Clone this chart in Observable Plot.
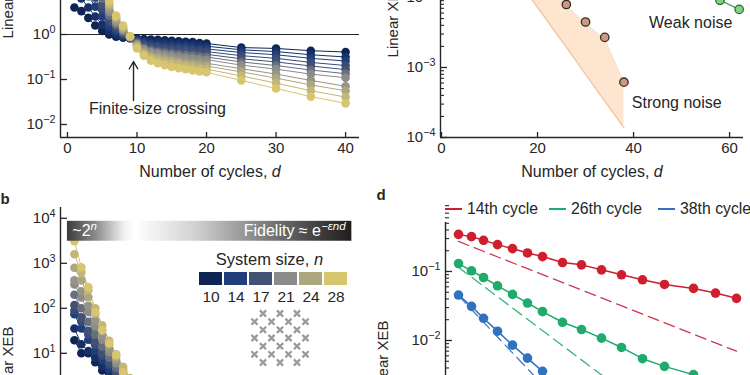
<!DOCTYPE html>
<html><head><meta charset="utf-8">
<script src="https://cdn.jsdelivr.net/npm/d3@7"></script>
<script src="https://cdn.jsdelivr.net/npm/@observablehq/plot@0.6"></script>
<style>
body{margin:0;background:#fff;}
#page{position:relative;width:750px;height:375px;overflow:hidden;background:#fff;font-family:"Liberation Sans",Arial,Helvetica,sans-serif;color:#262626;}
.wrap{position:absolute;}
.plabel{position:absolute;font-weight:bold;font-size:15px;line-height:15px;}
.lg{position:absolute;font-size:15.8px;line-height:15.8px;display:flex;align-items:center;white-space:nowrap;}
.sw{display:inline-block;width:17px;height:2px;margin-right:5px;}
</style></head><body><div id="page"></div>
<script>
// ---------------- DATA ----------------
const cyclesA = [1,2,3,4,5,6,7,8,9,10,11,12,13,14,15,16,17,18,19,20,25,30,35,40];
const cyclesB = [1,2,3,4,5,6,7,8,9,10];
const sizes = [10,12,14,16,17,19,21,22,24,26,28];
const legendSizes = [10,14,17,21,24,28];
const legendColors = ["#0e2554","#203d7c","#435274","#8b8b89","#ada780","#d8c66f"];

// panel a: log10(linear XEB) for each system size, at cyclesA
const aN10 = [0.60,0.52,0.37,0.20,0.08,0.00,-0.05,-0.07,-0.08,-0.09,-0.10,-0.11,-0.12,-0.13,-0.14,-0.15,-0.16,-0.17,-0.19,-0.20,-0.29,-0.31,-0.36,-0.39];
const aN12 = [0.95,0.80,0.60,0.40,0.22,0.08,0.00,-0.05,-0.08,-0.11,-0.14,-0.16,-0.17,-0.18,-0.19,-0.20,-0.21,-0.23,-0.25,-0.26,-0.34,-0.38,-0.45,-0.50];
const aN14 = [1.30,1.10,0.85,0.62,0.40,0.18,0.07,-0.02,-0.07,-0.13,-0.18,-0.21,-0.23,-0.24,-0.25,-0.26,-0.27,-0.29,-0.31,-0.32,-0.40,-0.45,-0.53,-0.59];
const aN16 = [1.65,1.40,1.10,0.82,0.56,0.28,0.13,0.01,-0.07,-0.15,-0.22,-0.26,-0.28,-0.30,-0.31,-0.32,-0.33,-0.35,-0.37,-0.38,-0.47,-0.53,-0.62,-0.69];
const aN17 = [1.85,1.58,1.25,0.95,0.66,0.34,0.17,0.03,-0.06,-0.17,-0.26,-0.31,-0.33,-0.35,-0.36,-0.38,-0.39,-0.41,-0.43,-0.44,-0.54,-0.61,-0.70,-0.78];
const aN19 = [2.15,1.82,1.45,1.12,0.80,0.42,0.22,0.06,-0.06,-0.19,-0.30,-0.35,-0.38,-0.40,-0.42,-0.44,-0.45,-0.47,-0.49,-0.50,-0.61,-0.69,-0.79,-0.87];
const aN21 = [2.45,2.05,1.65,1.28,0.93,0.50,0.27,0.09,-0.06,-0.21,-0.33,-0.39,-0.42,-0.45,-0.47,-0.49,-0.51,-0.53,-0.55,-0.56,-0.68,-0.77,-0.88,-0.96];
const aN22 = [2.60,2.18,1.75,1.37,1.00,0.55,0.30,0.11,-0.05,-0.23,-0.36,-0.43,-0.47,-0.50,-0.53,-0.56,-0.58,-0.60,-0.62,-0.64,-0.76,-0.88,-1.02,-1.15];
const aN24 = [2.85,2.40,1.92,1.50,1.10,0.62,0.35,0.14,-0.05,-0.25,-0.40,-0.48,-0.52,-0.55,-0.58,-0.61,-0.64,-0.66,-0.68,-0.70,-0.83,-0.97,-1.12,-1.25];
const aN26 = [3.10,2.62,2.10,1.65,1.22,0.68,0.39,0.17,-0.04,-0.28,-0.44,-0.53,-0.58,-0.61,-0.64,-0.67,-0.70,-0.72,-0.75,-0.77,-0.92,-1.08,-1.25,-1.39];
const aN28 = [3.35,2.85,2.30,1.80,1.32,0.74,0.42,0.20,-0.04,-0.31,-0.47,-0.58,-0.64,-0.68,-0.72,-0.75,-0.77,-0.80,-0.82,-0.84,-1.02,-1.20,-1.38,-1.53];

// panel b: log10(linear XEB) at cyclesB
const bN10 = [1.29,1.00,1.00,0.80,0.62,0.45,0.30,0.15,0.00,-0.10];
const bN12 = [1.55,1.20,1.05,0.90,0.72,0.55,0.38,0.20,0.05,-0.10];
const bN14 = [1.87,1.55,1.30,1.05,0.85,0.65,0.48,0.30,0.12,-0.05];
const bN16 = [1.95,1.70,1.42,1.18,0.95,0.75,0.55,0.38,0.20,0.00];
const bN17 = [2.07,1.80,1.50,1.25,1.02,0.80,0.60,0.42,0.22,0.05];
const bN19 = [2.30,2.00,1.70,1.42,1.15,0.90,0.68,0.48,0.28,0.10];
const bN21 = [2.53,2.24,1.92,1.60,1.30,1.02,0.78,0.55,0.33,0.12];
const bN22 = [2.62,2.38,2.05,1.72,1.40,1.10,0.84,0.60,0.37,0.15];
const bN24 = [2.90,2.62,2.25,1.88,1.52,1.20,0.90,0.65,0.40,0.18];
const bN26 = [3.20,2.80,2.40,2.00,1.62,1.28,0.98,0.70,0.45,0.20];
const bN28 = [3.49,2.91,2.47,1.91,1.51,1.22,0.96,0.58,0.35,0.15];

// panel c
const strongCycles = [26,30,34,38];
const strongLog = [-2.10,-2.35,-2.57,-3.21];
const weakCycles = [58,62];
const weakLog = [-2.04,-2.17];
const bandCycles = [18,24.5,26,30,34,38];
const bandLowLog = [-1.95,-2.57,-2.71,-3.10,-3.48,-3.86];
const bandHighLog = [-1.00,-2.00,-2.12,-2.37,-2.60,-3.22];

// panel d
const xD = [11.3,12.6,13.8,15.2,16.7,18.2,19.7,21.7,23.6,25.6,27.6,29.7,31.9,34.8,37.0,39.1];
const cyc14Log = [-0.462,-0.495,-0.548,-0.611,-0.668,-0.731,-0.784,-0.870,-0.904,-0.976,-1.048,-1.120,-1.188,-1.245,-1.313,-1.389];
const cyc26Log = [-0.885,-0.990,-1.087,-1.207,-1.332,-1.457,-1.582,-1.736,-1.841,-1.966,-2.101,-2.264,-2.375,-2.495];
const cyc38Log = [-1.341,-1.505,-1.678,-1.865,-2.067,-2.255,-2.447];
const fit14X = [11.3,39.1], fit14Log = [-0.565,-2.155];
const fit26X = [11.3,30.0], fit26Log = [-0.94,-2.98];
const fit38X = [11.3,24.0], fit38Log = [-1.35,-3.30];
const cycleLabels = ["14th cycle","26th cycle","38th cycle"];
const cycleColors = ["#cf1f2e","#1fab6b","#2f72c0"];
const fitColors = ["#c93a50","#38b57e","#3f7fc8"];

// qubit layout
const qubitRow = [0,0,0,1,1,1,1,2,2,2,3,3,3,3,4,4,4,5,5,5,5,6,6,6];
const qubitCol = [1,3,5,0,2,4,6,1,3,5,0,2,4,6,1,3,5,0,2,4,6,1,3,5];

// ---------------- HELPERS ----------------
const FONT = '"Liberation Sans", Arial, Helvetica, sans-serif';
const INK = "#262626";
const TICK = 15, TITLE = 16, NOTE = 16;
const page = document.getElementById("page");
const colorScale = {type: "linear", domain: legendSizes, range: legendColors};
const sup10 = v => { const e = Math.round(Math.log10(v)); return "10^" + (e < 0 ? "\u2212" + (-e) : e); };
const logTicks = (a, b) => d3.range(a, b + 1).map(e => 10 ** e);
const minorTicks = (a, b) => d3.range(a, b + 1).flatMap(e => d3.range(2, 10).map(m => m * 10 ** e));

const RICH = {
  "Number of cycles, d": [["Number of cycles, "], ["d", "i"]],
  "System size, n": [["System size, "], ["n", "i"]],
  "~2^n": [["~2"], ["n", "is"]],
  "Fidelity \u2248 e^\u2212\u03b5nd": [["Fidelity \u2248 e"], ["\u2212\u03b5nd", "is"]]
};
function enrich(svg) {
  d3.select(svg).selectAll("text").each(function () {
    if (this.querySelector("tspan")) return;
    const t = this.textContent;
    let segs = RICH[t];
    if (!segs && /^10\^/.test(t)) segs = [["10"], [t.slice(3), "s"]];
    if (!segs) return;
    const el = d3.select(this);
    el.text(null);
    for (const [s, f = ""] of segs) {
      const ts = el.append("tspan").text(s);
      if (f.includes("i")) ts.attr("font-style", "italic");
      if (f.includes("s")) ts.attr("dy", "-0.55em").style("font-size", "72%");
    }
  });
}
function place(node, left, top) {
  const w = document.createElement("div");
  w.className = "wrap";
  w.style.left = left + "px"; w.style.top = top + "px";
  w.appendChild(node);
  page.appendChild(w);
  enrich(node);
  return node;
}
const baseStyle = {fontFamily: FONT, background: "transparent", color: INK, overflow: "visible"};
const xTitle = () => Plot.text(["Number of cycles, d"], {frameAnchor: "bottom", lineAnchor: "middle", textAnchor: "middle", dy: 34, fontSize: TITLE, fill: INK});
const yTitle = dx => Plot.text(["Linear XEB"], {frameAnchor: "left", rotate: -90, textAnchor: "middle", lineAnchor: "middle", dx, fontSize: 15, fill: INK});

// ---------------- PANEL A ----------------
const seriesA = [aN10,aN12,aN14,aN16,aN17,aN19,aN21,aN22,aN24,aN26,aN28];
const tableA = sizes.flatMap((n, i) => seriesA[i].map((v, j) => ({n, d: cyclesA[j], xeb: 10 ** v})));
const yA = [10 ** -2.289, 10 ** 3.8];
const plotA = Plot.plot({
  width: 375, height: 324, marginLeft: 60, marginRight: 16, marginTop: 0, marginBottom: 50,
  style: baseStyle,
  x: {domain: [-1, 42]},
  y: {type: "log", domain: yA},
  color: colorScale,
  marks: [
    Plot.ruleY([1], {stroke: INK, strokeWidth: 1.2}),
    Plot.line(tableA, {x: "d", y: "xeb", z: "n", stroke: "n", strokeWidth: 1}),
    Plot.dot(tableA, {x: "d", y: "xeb", fill: "n", r: 4.3}),
    Plot.arrow([{d: 9.5, from: 10 ** -1.467, to: 10 ** -0.6}], {x1: "d", x2: "d", y1: "from", y2: "to", stroke: INK, strokeWidth: 1.4, headLength: 9}),
    Plot.text(["Finite-size crossing"], {x: 12.95, y: 10 ** -1.66, fontSize: NOTE, fill: INK}),
    Plot.axisX({ticks: [0,10,20,30,40], tickSize: -5, tickPadding: 10, fontSize: TICK, label: null, stroke: INK, strokeWidth: 1.3}),
    Plot.axisY({ticks: logTicks(-2, 3), tickFormat: sup10, tickSize: -7, tickPadding: 12, fontSize: TICK, label: null, strokeWidth: 1.3}),
    Plot.ruleX([-1], {stroke: INK, strokeWidth: 1.4}),
    Plot.ruleY([yA[0]], {stroke: INK, strokeWidth: 1.4}),
    xTitle(),
    yTitle(-52)
  ]
});
place(plotA, 0, -137);

// ---------------- PANEL B ----------------
const seriesB = [bN10,bN12,bN14,bN16,bN17,bN19,bN21,bN22,bN24,bN26,bN28];
const tableB = sizes.flatMap((n, i) => seriesB[i].map((v, j) => ({n, d: cyclesB[j], xeb: 10 ** v})));
const yB = [10 ** -2.738, 10 ** 4.24];
const fidelityBar = {start: 0, end: 40.9, low: 10 ** 3.49, high: 10 ** 3.933};
const plotB = Plot.plot({
  width: 375, height: 354, marginLeft: 60, marginRight: 16, marginTop: 0, marginBottom: 40,
  style: baseStyle,
  x: {domain: [-1, 42]},
  y: {type: "log", domain: yB},
  color: colorScale,
  marks: [
    Plot.line(tableB, {x: "d", y: "xeb", z: "n", stroke: "n", strokeWidth: 1}),
    Plot.dot(tableB, {x: "d", y: "xeb", fill: "n", r: 4.3}),
    Plot.rect([fidelityBar], {x1: "start", x2: "end", y1: "low", y2: "high", fill: "url(#fidelityGradient)"}),
    Plot.text(["~2^n"], {x: 0.7, y: 10 ** 3.71, textAnchor: "start", fill: "white", fontSize: NOTE}),
    Plot.text(["Fidelity \u2248 e^\u2212\u03b5nd"], {x: 40.0, y: 10 ** 3.71, textAnchor: "end", fill: "white", fontSize: NOTE}),
    Plot.axisX({ticks: [0,10,20,30,40], tickSize: -5, tickPadding: 10, fontSize: TICK, label: null}),
    Plot.axisY({ticks: logTicks(-2, 4), tickFormat: sup10, tickSize: -7, tickPadding: 12, fontSize: TICK, label: null, strokeWidth: 1.3}),
    Plot.ruleX([-1], {stroke: INK, strokeWidth: 1.4}),
    Plot.ruleY([yB[0]], {stroke: INK, strokeWidth: 1.4}),
    yTitle(-52)
  ]
});
const defs = d3.select(plotB).insert("defs", ":first-child");
const grad = defs.append("linearGradient").attr("id", "fidelityGradient").attr("x1", 0).attr("x2", 1).attr("y1", 0).attr("y2", 0);
[[0,"#3c3c3c"],[0.1,"#8a8a8a"],[0.2,"#f0f0f0"],[0.24,"#ffffff"],[0.45,"#d2d2d2"],[0.65,"#8e8e8e"],[0.85,"#4a4a4a"],[1,"#1e1e1e"]]
  .forEach(([o, c]) => grad.append("stop").attr("offset", o).attr("stop-color", c));
place(plotB, 0, 207);

// legend: system size
const plotLegend = Plot.plot({
  width: 176, height: 57, marginLeft: 13, marginRight: 13, marginTop: 24, marginBottom: 20,
  style: baseStyle,
  x: {type: "band", domain: legendSizes, paddingInner: 0.08, paddingOuter: 0.04},
  color: colorScale,
  marks: [
    Plot.cell(legendSizes, {x: d => d, fill: d => d}),
    Plot.axisX({tickSize: 0, tickPadding: 5, fontSize: 15.5, label: null}),
    Plot.text(["System size, n"], {frameAnchor: "top", lineAnchor: "middle", textAnchor: "middle", dy: -13, dx: -4, fontSize: 16.5, fill: INK})
  ]
});
place(plotLegend, 185, 248);

// qubit layout
const qubits = qubitRow.map((r, i) => ({r, c: qubitCol[i]}));
const plotQ = Plot.plot({
  width: 71, height: 69, marginLeft: 10, marginRight: 10, marginTop: 10, marginBottom: 10,
  style: baseStyle,
  x: {domain: [0, 6], axis: null},
  y: {domain: [0, 6], reverse: true, axis: null},
  marks: [Plot.dot(qubits, {x: "c", y: "r", symbol: "times", r: 2.9, stroke: "#9b9b9b", strokeWidth: 2.3})]
});
place(plotQ, 244, 303);

// ---------------- PANEL C ----------------
const band = bandCycles.map((d, i) => ({d, low: 10 ** bandLowLog[i], high: 10 ** bandHighLog[i]}));
const strong = strongCycles.map((d, i) => ({d, xeb: 10 ** strongLog[i]}));
const weak = weakCycles.map((d, i) => ({d, xeb: 10 ** weakLog[i]}));
const yC = [1e-4, 10 ** -0.629];
const plotC = Plot.plot({
  width: 375, height: 286, marginLeft: 65, marginRight: 7, marginTop: 0, marginBottom: 50,
  style: baseStyle,
  x: {domain: [-0.21, 62.9]},
  y: {type: "log", domain: yC},
  marks: [
    Plot.areaY(band, {x: "d", y1: "low", y2: "high", fill: "#fde5cf"}),
    Plot.line(band, {x: "d", y: "low", stroke: "#efc39c", strokeWidth: 1.2}),
    Plot.line(band, {x: "d", y: "high", stroke: "#f7dcc4", strokeWidth: 1}),
    Plot.line(weak, {x: "d", y: "xeb", stroke: "#3f9f4f", strokeWidth: 1.3}),
    Plot.dot(strong, {x: "d", y: "xeb", fill: "#c99a86", stroke: "#3a2a22", strokeWidth: 1.3, r: 4.2}),
    Plot.dot(weak, {x: "d", y: "xeb", fill: "#84d181", stroke: "#2d6b36", strokeWidth: 1.3, r: 4.2}),
    Plot.text(["Weak noise"], {x: 51.9, y: 10 ** -2.36, fontSize: NOTE, fill: INK}),
    Plot.text(["Strong noise"], {x: 49, y: 10 ** -3.503, fontSize: NOTE, fill: INK}),
    Plot.axisX({ticks: [0,20,40,60], tickSize: -5, tickPadding: 10, fontSize: TICK, label: null, strokeWidth: 1.3}),
    Plot.axisY({ticks: minorTicks(-4, -1), tickFormat: () => "", tickSize: -4, label: null, strokeWidth: 1.1}),
    Plot.axisY({ticks: logTicks(-4, -1), tickFormat: sup10, tickSize: -7, tickPadding: 12, fontSize: TICK, label: null, strokeWidth: 1.3}),
    Plot.ruleX([-0.21], {stroke: INK, strokeWidth: 1.4}),
    Plot.ruleY([yC[0]], {stroke: INK, strokeWidth: 1.4}),
    xTitle(),
    yTitle(-47.5)
  ]
});
place(plotC, 375, -99);

// ---------------- PANEL D ----------------
const logsD = [cyc14Log, cyc26Log, cyc38Log];
const tableD = logsD.flatMap((arr, k) => arr.map((v, j) => ({k, x: xD[j], xeb: 10 ** v})));
const fitsD = [[fit14X, fit14Log], [fit26X, fit26Log], [fit38X, fit38Log]]
  .flatMap(([xs, ls], k) => xs.map((x, j) => ({k, x, xeb: 10 ** ls[j]})));
const yD = [10 ** -4.232, 10 ** -0.29];
const plotD = Plot.plot({
  width: 375, height: 312, marginLeft: 70, marginRight: 5, marginTop: 0, marginBottom: 40,
  style: baseStyle,
  x: {domain: [10, 40]},
  y: {type: "log", domain: yD},
  marks: [
    Plot.line(fitsD, {x: "x", y: "xeb", z: "k", stroke: d => fitColors[d.k], strokeWidth: 1.3, strokeDasharray: "11,6"}),
    Plot.line(tableD, {x: "x", y: "xeb", z: "k", stroke: d => cycleColors[d.k], strokeWidth: 1.5}),
    Plot.dot(tableD, {x: "x", y: "xeb", fill: d => cycleColors[d.k], r: 4.8}),
    Plot.axisY({ticks: minorTicks(-5, -1), tickFormat: () => "", tickSize: -4, label: null, strokeWidth: 1.1}),
    Plot.axisY({ticks: logTicks(-4, -1), tickFormat: sup10, tickSize: -7, tickPadding: 12, fontSize: TICK, label: null, strokeWidth: 1.3}),
    Plot.ruleX([10], {stroke: INK, strokeWidth: 1.4}),
    yTitle(-62)
  ]
});
place(plotD, 375, 222);

// legend d
const legendLefts = [445, 549, 658];
cycleLabels.forEach((lab, k) => {
  const div = document.createElement("div");
  div.className = "lg";
  div.style.left = legendLefts[k] + "px"; div.style.top = "201px";
  const sw = document.createElement("span");
  sw.className = "sw"; sw.style.background = cycleColors[k];
  div.appendChild(sw);
  div.appendChild(document.createTextNode(lab));
  page.appendChild(div);
});

// panel letters
[["b", 0.5, 191.3], ["d", 376.5, 187.3]].forEach(([t, l, tp]) => {
  const div = document.createElement("div");
  div.className = "plabel"; div.textContent = t;
  div.style.left = l + "px"; div.style.top = tp + "px";
  page.appendChild(div);
});
</script></body></html>
